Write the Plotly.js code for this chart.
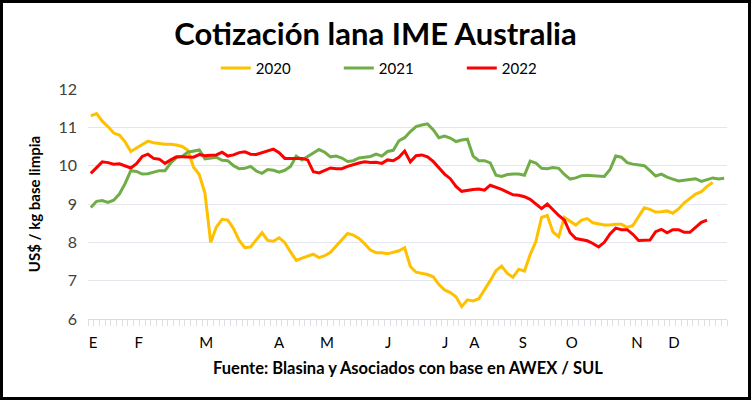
<!DOCTYPE html>
<html>
<head>
<meta charset="utf-8">
<script src="https://cdn.plot.ly/plotly-3.0.1.min.js"></script>
<style>
html,body{margin:0;padding:0;background:#fff;}
#chart{width:745px;height:394px;border:3px solid #000;}
</style>
</head>
<body>
<div id="chart"></div>
<script>
// Sale index (one per AWEX market day, shared category axis)
const weeks = Array.from({length: 112}, (_, i) => i);

const y2020 = [11.30, 11.36, 11.16, 11.02, 10.85, 10.80, 10.62, 10.37, 10.46, 10.55, 10.64, 10.60, 10.58, 10.56, 10.56, 10.54, 10.50, 10.40, 9.96, 9.77, 9.28, 8.00, 8.40, 8.60, 8.58, 8.36, 8.05, 7.86, 7.88, 8.08, 8.25, 8.05, 8.03, 8.12, 7.99, 7.75, 7.53, 7.59, 7.64,
  7.69, 7.60, 7.65, 7.74, 7.91, 8.08, 8.23, 8.19, 8.10, 7.96, 7.80, 7.73, 7.73, 7.70, 7.73, 7.78, 7.86, 7.37, 7.22, 7.19, 7.16, 7.10, 6.90, 6.76, 6.69, 6.58, 6.32, 6.50, 6.47, 6.53, 6.75, 7.00, 7.26, 7.38, 7.19, 7.09, 7.30, 7.25, 7.68,
  8.02, 8.65, 8.70, 8.27, 8.15, 8.65, 8.55, 8.45, 8.58, 8.62, 8.51, 8.48, 8.45, 8.45, 8.47, 8.47, 8.39, 8.44, 8.68, 8.90, 8.86, 8.79, 8.80, 8.82, 8.76, 8.87, 9.03, 9.15, 9.26, 9.32, 9.46, 9.56];

const y2021 = [8.91, 9.07, 9.09, 9.04, 9.10, 9.26, 9.53, 9.87, 9.85, 9.78, 9.79, 9.84, 9.87, 9.87, 10.07, 10.21, 10.24, 10.35, 10.38, 10.41, 10.18, 10.20, 10.22, 10.14, 10.13, 10.00, 9.92, 9.93, 9.98, 9.86, 9.80, 9.90, 9.88, 9.83, 9.88, 9.98, 10.25, 10.15, 10.24,
  10.33, 10.42, 10.35, 10.23, 10.25, 10.20, 10.11, 10.13, 10.20, 10.22, 10.24, 10.30, 10.25, 10.37, 10.40, 10.65, 10.73, 10.89, 11.02, 11.06, 11.09, 10.94, 10.73, 10.77, 10.72, 10.63, 10.67, 10.69, 10.25, 10.13, 10.13, 10.07, 9.75, 9.72, 9.77, 9.78, 9.78, 9.75, 10.12,
  10.07, 9.93, 9.92, 9.95, 9.93, 9.77, 9.65, 9.68, 9.74, 9.75, 9.74, 9.73, 9.72, 9.90, 10.25, 10.22, 10.08, 10.04, 10.02, 10.00, 9.87, 9.73, 9.78, 9.70, 9.65, 9.60, 9.62, 9.64, 9.66, 9.59, 9.63, 9.68, 9.65, 9.67];

const y2022 = [9.80, 9.95, 10.10, 10.08, 10.04, 10.05, 10.00, 9.94, 10.05, 10.24, 10.30, 10.19, 10.17, 10.06, 10.15, 10.23, 10.23, 10.22, 10.22, 10.29, 10.26, 10.27, 10.28, 10.35, 10.25, 10.28, 10.34, 10.36, 10.30, 10.29, 10.34, 10.37, 10.43, 10.34, 10.19, 10.19, 10.19, 10.19, 10.15,
  9.84, 9.81, 9.88, 9.94, 9.92, 9.92, 9.98, 10.03, 10.07, 10.10, 10.08, 10.09, 10.06, 10.15, 10.13, 10.22, 10.38, 10.10, 10.26, 10.28, 10.23, 10.11, 9.94, 9.78, 9.66, 9.46, 9.33, 9.36, 9.38, 9.39, 9.36, 9.49, 9.44, 9.38, 9.31, 9.24, 9.23, 9.19, 9.12,
  9.00, 8.88, 9.00, 8.85, 8.70, 8.58, 8.25, 8.10, 8.07, 8.04, 7.97, 7.88, 8.00, 8.22, 8.37, 8.33, 8.33, 8.21, 8.05, 8.05, 8.06, 8.28, 8.34, 8.25, 8.33, 8.33, 8.26, 8.26, 8.38, 8.52, 8.58];

const seriesNames = ['2020', '2021', '2022'];
const monthLabels = ['E', 'F', 'M', 'A', 'M', 'J', 'J', 'A', 'S', 'O', 'N', 'D'];
const monthPos = [0.4, 8.4, 20.2, 33.0, 41.4, 52.1, 62.1, 67.2, 75.7, 84.3, 95.7, 102.2];
const yTicks = [6, 7, 8, 9, 10, 11, 12];

const colors = ['#FFC000', '#70AD47', '#FF0000'];
const FONT = 'Lato, "Open Sans", sans-serif';

const data = [y2020, y2021, y2022].map((ys, k) => ({
  type: 'scatter', mode: 'lines', name: seriesNames[k],
  x: weeks.slice(0, ys.length), y: ys,
  line: {color: colors[k], width: 3},
  hoverinfo: 'skip'
}));

const layout = {
  width: 745, height: 394,
  margin: {l: 85, r: 21, t: 86, b: 78},
  paper_bgcolor: '#fff', plot_bgcolor: '#fff',
  font: {family: FONT, color: '#404040'},
  title: {text: '<b>Cotización lana IME Australia</b>', font: {family: FONT, size: 31, color: '#000'},
    x: 0.5, xanchor: 'center', xref: 'container', y: 0.921, yanchor: 'middle', yref: 'container'},
  showlegend: true,
  legend: {orientation: 'h', x: 0.2, xanchor: 'left', y: 1.09, yanchor: 'middle',
    font: {family: FONT, size: 15, color: '#000'}, entrywidth: 78, entrywidthmode: 'pixels',
    bgcolor: 'rgba(0,0,0,0)', itemclick: false},
  xaxis: {range: [-0.5, 111.5], tickmode: 'array', tickvals: monthPos, ticktext: monthLabels,
    ticks: '', showgrid: false, zeroline: false, showline: true, linecolor: '#d9dde3', linewidth: 1,
    tickfont: {family: FONT, size: 15, color: '#000'}, ticklabelstandoff: 10,
    minor: {tickmode: 'linear', tick0: -0.5, dtick: 1, ticks: 'outside', ticklen: 6, tickcolor: '#dde1e7', tickwidth: 1, showgrid: false},
    fixedrange: true},
  yaxis: {range: [6, 12], tickmode: 'array', tickvals: yTicks, ticks: '', showgrid: true, gridcolor: '#e3e7ed', gridwidth: 1,
    zeroline: false, showline: false, tickfont: {family: FONT, size: 16, color: '#404040'}, ticklabelstandoff: 10,
    title: {text: '<b>US$ / kg base limpia</b>', font: {family: FONT, size: 15, color: '#000'}, standoff: 14},
    fixedrange: true},
  annotations: [{text: '<b>Fuente: Blasina y Asociados con base en AWEX / SUL</b>', xref: 'paper', yref: 'paper',
    x: 0.5, y: -0.213, xanchor: 'center', yanchor: 'middle', showarrow: false,
    font: {family: FONT, size: 16.5, color: '#000'}}]
};

Plotly.newPlot('chart', data, layout, {displayModeBar: false, staticPlot: true});
</script>
</body>
</html>
